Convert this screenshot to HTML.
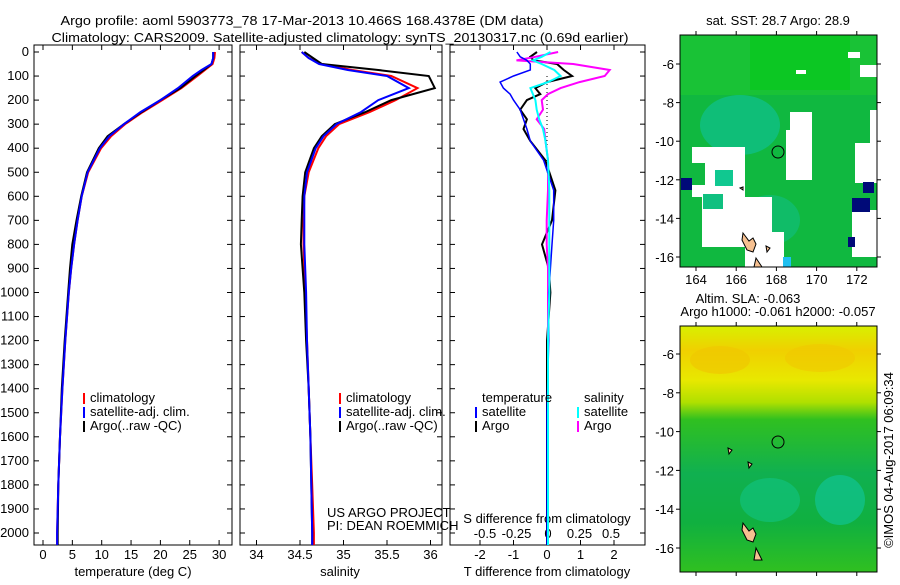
<!DOCTYPE html>
<html><head><meta charset="utf-8"><style>
body{margin:0;background:#fff;width:900px;height:580px;overflow:hidden}
svg text{font-family:"Liberation Sans",sans-serif;font-size:13px;fill:#000}
</style></head><body>
<svg id="c" width="900" height="580" xmlns="http://www.w3.org/2000/svg">
<defs>
<linearGradient id="slag" x1="0" y1="0" x2="0" y2="1">
<stop offset="0" stop-color="#d8f000"/><stop offset="0.1" stop-color="#f0d000"/><stop offset="0.22" stop-color="#e8e800"/><stop offset="0.31" stop-color="#b0e000"/><stop offset="0.38" stop-color="#30c020"/><stop offset="0.6" stop-color="#10b050"/><stop offset="0.8" stop-color="#10b040"/><stop offset="1" stop-color="#30c020"/>
</linearGradient>
</defs>
<text x="302" y="25" text-anchor="middle" font-size="14" textLength="483" lengthAdjust="spacingAndGlyphs">Argo profile: aoml 5903773_78 17-Mar-2013 10.466S 168.4378E (DM data)</text>
<text x="340" y="42" text-anchor="middle" font-size="14" textLength="577" lengthAdjust="spacingAndGlyphs">Climatology: CARS2009. Satellite-adjusted climatology: synTS_20130317.nc (0.69d earlier)</text>
<g id="g"></g>
<!-- maps -->
<g>
<rect x="680" y="35" width="197" height="232" fill="#10b840"/>
<rect x="680" y="35" width="197" height="60" fill="#20c830" opacity="0.6"/>
<rect x="750" y="35" width="100" height="55" fill="#00cc10" opacity="0.5"/>
<ellipse cx="740" cy="125" rx="40" ry="30" fill="#10c090" opacity="0.7"/>
<ellipse cx="770" cy="220" rx="30" ry="25" fill="#10c090" opacity="0.5"/>
<g fill="#fff">
<rect x="692" y="147" width="53" height="120"/><rect x="745" y="197" width="27" height="70"/><rect x="772" y="232" width="12" height="35"/>
<rect x="790" y="112" width="22" height="68"/><rect x="786" y="130" width="10" height="50"/>
<rect x="855" y="143" width="22" height="40"/><rect x="870" y="110" width="7" height="35"/>
<rect x="852" y="210" width="25" height="47"/><rect x="860" y="65" width="17" height="12"/><rect x="848" y="52" width="12" height="6"/><rect x="796" y="70" width="10" height="4"/>
</g>
<g fill="#10b840"><rect x="680" y="163" width="25" height="22"/><rect x="680" y="197" width="22" height="50"/><rect x="680" y="247" width="65" height="20"/></g>
<rect x="715" y="170" width="18" height="16" fill="#10c890"/><rect x="703" y="194" width="20" height="15" fill="#10c080"/>
<g fill="#000a78"><rect x="681" y="178" width="11" height="12"/><rect x="863" y="182" width="11" height="11"/><rect x="852" y="198" width="18" height="14"/><rect x="848" y="237" width="7" height="10"/></g>
<rect x="783" y="257" width="8" height="10" fill="#20c0f0"/>
<path d="M743 233 l6 8 l4 -3 l3 6 l-3 8 l-6 -2 l-5 -10z M756 258 l6 9 h-8z M740 188 l3 -1 v3z M766 246 l4 2 -3 4z" fill="#f6c090" stroke="#000" stroke-width="1"/>
<circle cx="778" cy="152" r="6" fill="none" stroke="#000"/>
<rect x="680" y="35" width="197" height="232" fill="none" stroke="#000"/>
</g>
<g>
<rect x="680" y="326" width="197" height="246" fill="url(#slag)"/>
<ellipse cx="720" cy="360" rx="30" ry="14" fill="#f0c800" opacity="0.7"/>
<ellipse cx="820" cy="358" rx="35" ry="14" fill="#f0c800" opacity="0.6"/>
<ellipse cx="840" cy="500" rx="25" ry="25" fill="#10c8a0" opacity="0.6"/>
<ellipse cx="770" cy="500" rx="30" ry="22" fill="#10c890" opacity="0.5"/>
<path d="M743 523 l6 8 l4 -3 l3 6 l-3 8 l-6 -2 l-5 -10z M756 548 l6 12 h-8z M748 462 l4 2 -3 4z M728 448 l4 2 -3 4z" fill="#f6c090" stroke="#000" stroke-width="1"/>
<circle cx="778" cy="442" r="6" fill="none" stroke="#000"/>
<rect x="680" y="326" width="197" height="246" fill="none" stroke="#000"/>
</g>
<text x="778" y="25" text-anchor="middle">sat. SST: 28.7 Argo: 28.9</text>
<text x="748" y="303" text-anchor="middle">Altim. SLA: -0.063</text>
<text x="778" y="316" text-anchor="middle">Argo h1000: -0.061 h2000: -0.057</text>
<text transform="translate(893,460) rotate(-90)" text-anchor="middle">©IMOS 04-Aug-2017 06:09:34</text>
<text x="327" y="517">US ARGO PROJECT</text>
<text x="327" y="530">PI: DEAN ROEMMICH</text>
</svg>
<script>
const depths=[0,25,50,75,100,150,200,250,300,350,400,500,600,700,800,900,1000,1200,1400,1600,1800,2000,2050];
const tempClim=[29.3,29.2,28.9,27.6,26.3,23.6,20.3,17.0,14.0,11.6,9.9,7.7,6.6,5.9,5.3,4.8,4.4,3.8,3.3,2.9,2.6,2.4,2.4];
const tempSat=[29.0,29.0,28.7,27.0,25.5,23.0,20.0,16.6,13.8,11.3,9.7,7.6,6.6,5.9,5.3,4.8,4.4,3.8,3.3,2.9,2.6,2.4,2.4];
const tempArgo=[29.0,29.0,28.7,27.4,26.0,23.4,20.0,16.8,13.8,11.0,9.5,7.5,6.5,5.7,5.0,4.6,4.3,3.7,3.2,2.9,2.6,2.5,2.5];
const salClim=[34.52,34.6,34.75,35.1,35.55,35.85,35.6,35.3,34.95,34.8,34.71,34.6,34.55,34.54,34.54,34.55,34.56,34.58,34.6,34.62,34.64,34.66,34.66];
const salSat=[34.52,34.6,34.72,35.05,35.5,35.75,35.4,35.2,34.92,34.77,34.68,34.58,34.55,34.55,34.55,34.56,34.57,34.58,34.6,34.62,34.63,34.64,34.64];
const salArgo=[34.55,34.65,34.75,35.4,35.98,36.05,35.55,35.25,34.9,34.75,34.66,34.56,34.53,34.52,34.51,34.53,34.55,34.57,34.6,34.62,34.63,34.64,34.64];
const ddepths=[0,20,35,50,75,100,125,150,175,200,240,280,320,370,450,575,700,800,900,1000,1200,1500,2000,2050];
const tDiffSat=[-0.9,-0.8,-0.6,-0.5,-0.5,-1.0,-1.4,-1.3,-1.1,-1.0,-0.8,-0.7,-0.6,-0.5,-0.1,0.2,0.2,0.15,0.1,0.05,0.05,0.0,0.0,0.0];
const tDiffArgo=[-0.3,-0.5,-0.4,0.3,0.5,0.75,0.0,-0.35,-0.2,-0.6,-0.8,-0.6,-0.7,-0.5,-0.05,0.25,0.15,-0.15,0.05,0.1,0.0,0.0,0.0,0.0];
const sDiffSat=[0.02,-0.05,-0.12,-0.05,0.05,0.1,0.0,-0.14,-0.12,-0.1,-0.09,-0.07,-0.04,-0.02,0.0,0.01,0.01,0.01,0.01,0.01,0.0,0.0,0.0,0.0];
const sDiffArgo=[0.08,-0.1,-0.25,0.2,0.49,0.45,0.25,0.1,0.0,-0.05,-0.04,-0.09,-0.03,-0.02,0.0,0.0,-0.01,-0.01,0.0,0.0,0.0,0.0,0.0,0.0];
const depthTicks=[0,100,200,300,400,500,600,700,800,900,1000,1100,1200,1300,1400,1500,1600,1700,1800,1900,2000];
const tempTicks=[0,5,10,15,20,25,30];
const salTicks=[34,34.5,35,35.5,36];
const tDiffTicks=[-2,-1,0,1,2];
const sDiffTicks=[-0.5,-0.25,0,0.25,0.5];

const NS='http://www.w3.org/2000/svg';
const G=document.getElementById('g');
function yD(d){return 52+d*0.2405;}
function xT(v){return 43+v*5.87;}
function xS(v){return 300+(v-34.5)*87;}
function xTD(v){return 547+v*33.5;}
function xSD(v){return 548+v*126;}
function mk(tag,attrs,parent){const e=document.createElementNS(NS,tag);for(const k in attrs)e.setAttribute(k,attrs[k]);(parent||G).appendChild(e);return e;}
function line(xs,ds,fx,color,w,name){
  const p=mk('path',{d:xs.map((v,i)=>(i?'L':'M')+fx(v).toFixed(1)+' '+yD(ds[i]).toFixed(1)).join(''),fill:'none',stroke:color,'stroke-width':w});
  
  
}
function txt(x,y,s,anchor,name){const t=mk('text',{x:x,y:y,'text-anchor':anchor||'start'});t.textContent=s;
  
  
  return t;}
const panels=[[34,232],[240,442],[450,645]];
panels.forEach((p,i)=>{
  const r=mk('rect',{x:p[0],y:45,width:p[1]-p[0],height:500,fill:'none',stroke:'#000'});
  
  
  depthTicks.forEach(d=>{mk('line',{x1:p[0],x2:p[0]+5,y1:yD(d),y2:yD(d),stroke:'#000'});mk('line',{x1:p[1],x2:p[1]-5,y1:yD(d),y2:yD(d),stroke:'#000'});});
});
depthTicks.forEach(d=>txt(29,yD(d)+4,String(d),'end','depth-tick-label'));
function xticks(ticks,fx,y,name){ticks.forEach(v=>{mk('line',{x1:fx(v),x2:fx(v),y1:545,y2:540,stroke:'#000'});mk('line',{x1:fx(v),x2:fx(v),y1:45,y2:50,stroke:'#000'});txt(fx(v),y,String(v),'middle',name);});}
xticks(tempTicks,xT,559,'temp-tick-label');
xticks(salTicks,xS,559,'salinity-tick-label');
xticks(tDiffTicks,xTD,559,'tdiff-tick-label');
sDiffTicks.forEach(v=>txt(xSD(v),538,String(v),'middle','sdiff-tick-label'));
txt(133,576,'temperature (deg C)','middle','temp-axis-title');
txt(340,576,'salinity','middle','salinity-axis-title');
txt(547,576,'T difference from climatology','middle','tdiff-axis-title');
txt(547,523,'S difference from climatology','middle','sdiff-axis-title');
line(tempClim,depths,xT,'#f00',2,'temp-climatology-line');
line(tempArgo,depths,xT,'#000',2,'temp-argo-line');
line(tempSat,depths,xT,'#00f',2,'temp-satellite-line');
line(salClim,depths,xS,'#f00',2,'salinity-climatology-line');
line(salArgo,depths,xS,'#000',2,'salinity-argo-line');
line(salSat,depths,xS,'#00f',2,'salinity-satellite-line');
const dz=mk('line',{x1:xTD(0),x2:xTD(0),y1:yD(100),y2:yD(500),stroke:'#000','stroke-dasharray':'1 3'});


line(tDiffArgo,ddepths,xTD,'#000',2,'tdiff-argo-line');
line(sDiffArgo,ddepths,xSD,'#f0f',2,'sdiff-argo-line');
line(tDiffSat,ddepths,xTD,'#00f',1.5,'tdiff-satellite-line');
line(sDiffSat,ddepths,xSD,'#0ff',2,'sdiff-satellite-line');
function leg(x,y,c,s,name){mk('rect',{x:x,y:y-9,width:2,height:11,fill:c});txt(x+7,y,s,'start',name);}
[83,339].forEach(x=>{leg(x,402,'#f00','climatology','legend-climatology');leg(x,416,'#00f','satellite-adj. clim.','legend-satellite');leg(x,430,'#000','Argo(..raw -QC)','legend-argo');});
txt(482,402,'temperature','start','legend-temperature-header');
txt(584,402,'salinity','start','legend-salinity-header');
leg(475,416,'#00f','satellite','legend-t-satellite');leg(475,430,'#000','Argo','legend-t-argo');
leg(577,416,'#0ff','satellite','legend-s-satellite');leg(577,430,'#f0f','Argo','legend-s-argo');
const lonTicks=[164,166,168,170,172];
const latTicks=[-6,-8,-10,-12,-14,-16];
function xLon(v){return 696+(v-164)*20.1;}
[[35,267,64,19.3,'sst'],[326,572,354,19.4,'sla']].forEach(([t,b,y6,s,n])=>{
  lonTicks.forEach(v=>{mk('line',{x1:xLon(v),x2:xLon(v),y1:t,y2:t-4,stroke:'#000'});mk('line',{x1:xLon(v),x2:xLon(v),y1:b,y2:b+4,stroke:'#000'});txt(xLon(v),b+17,String(v),'middle',n+'-lon-label');});
  latTicks.forEach(v=>{const y=y6+(-6-v)*s;mk('line',{x1:680,x2:676,y1:y,y2:y,stroke:'#000'});mk('line',{x1:877,x2:881,y1:y,y2:y,stroke:'#000'});txt(674,y+5,String(v),'end',n+'-lat-label');});
});
</script>
</body></html>
